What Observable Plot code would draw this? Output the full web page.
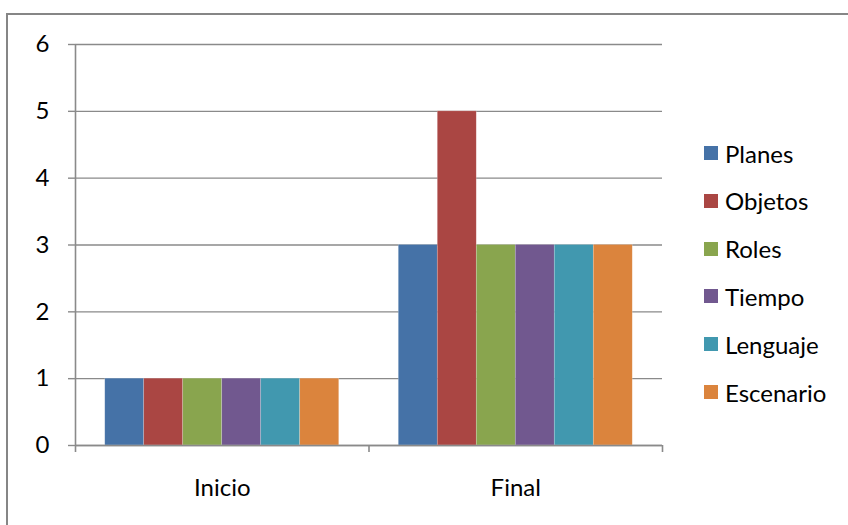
<!DOCTYPE html>
<html>
<head>
<meta charset="utf-8">
<script src="https://cdn.jsdelivr.net/npm/d3@7"></script>
<script src="https://cdn.jsdelivr.net/npm/@observablehq/plot@0.6"></script>
<style>
  html, body { margin: 0; padding: 0; background: #fff; overflow: hidden; }
  #wrap { position: relative; width: 848px; height: 525px; overflow: hidden; font-family: Lato, "Noto Sans", sans-serif; }
  #border { position: absolute; left: 6px; top: 13px; width: 880px; height: 560px; border: 2px solid #868686; box-sizing: border-box; pointer-events: none; }
  #chart { position: absolute; left: 0; top: 0; }
  #legend { position: absolute; left: 704px; top: 0; }
  .item { position: absolute; left: 0; display: flex; align-items: center; white-space: nowrap; font-size: 24px; color: #000; }
  .sw { width: 14px; height: 14px; margin-right: 7px; }
</style>
</head>
<body>
<div id="wrap">
  <div id="chart"></div>
  <div id="legend"></div>
  <div id="border"></div>
</div>
<script>
const categories = ["Inicio", "Final"];
const series = ["Planes", "Objetos", "Roles", "Tiempo", "Lenguaje", "Escenario"];
const inicioValues = [1, 1, 1, 1, 1, 1];
const finalValues = [3, 5, 3, 3, 3, 3];
const yTicks = [0, 1, 2, 3, 4, 5, 6];
const colors = ["#4572A7", "#AA4643", "#89A54E", "#71588F", "#4198AF", "#DB843D"];

const valuesByCategory = [inicioValues, finalValues];
const inner = d3.scaleBand().domain(series).range([0, 1]).paddingOuter(0.763).paddingInner(0);
const data = categories.flatMap((c, ci) => series.map((s, si) => ({
  cat: c, series: s, value: valuesByCategory[ci][si],
  x1: ci + inner(s), x2: ci + inner(s) + inner.bandwidth()
})));

const chart = Plot.plot({
  width: 848,
  height: 525,
  marginLeft: 75,
  marginRight: 186,
  marginTop: 44,
  marginBottom: 80,
  style: { fontFamily: "Lato, 'Noto Sans', sans-serif", fontSize: "24px", color: "#000", background: "transparent" },
  x: { domain: [0, categories.length] },
  y: { domain: [0, 6] },
  color: { domain: series, range: colors },
  marks: [
    Plot.ruleY(yTicks, { stroke: "#8a8a8a", strokeWidth: 1.4 }),
    Plot.rectY(data, { x1: "x1", x2: "x2", y: "value", fill: "series", stroke: "#fff", strokeOpacity: 0.35, strokeWidth: 0.6 }),
    Plot.ruleY([0], { stroke: "#8a8a8a", strokeWidth: 1.6 }),
    Plot.ruleX([0], { y1: 0, y2: 6, stroke: "#8a8a8a", strokeWidth: 1.6 }),
    Plot.axisY({ ticks: yTicks, tickSize: 7, tickPadding: 19, stroke: "#8a8a8a", strokeWidth: 1.4, fontSize: 24, label: null, tickFormat: d => String(d) }),
    Plot.axisX({ ticks: d3.range(categories.length + 1), tickSize: 7, tickFormat: () => "", stroke: "#8a8a8a", strokeWidth: 1.6, label: null }),
    Plot.axisX({ ticks: categories.map((c, i) => i + 0.5), tickSize: 0, tickPadding: 33, tickFormat: d => categories[Math.floor(d)], fontSize: 24, label: null })
  ]
});
document.getElementById("chart").appendChild(chart);

const legend = document.getElementById("legend");
series.forEach((s, i) => {
  const item = document.createElement("div");
  item.className = "item";
  item.style.top = (153 + i * 47.8 - 15) + "px";
  item.style.height = "30px";
  const sw = document.createElement("div");
  sw.className = "sw";
  sw.style.background = colors[i];
  const t = document.createElement("span");
  t.textContent = s;
  item.appendChild(sw);
  item.appendChild(t);
  legend.appendChild(item);
});
</script>
</body>
</html>
